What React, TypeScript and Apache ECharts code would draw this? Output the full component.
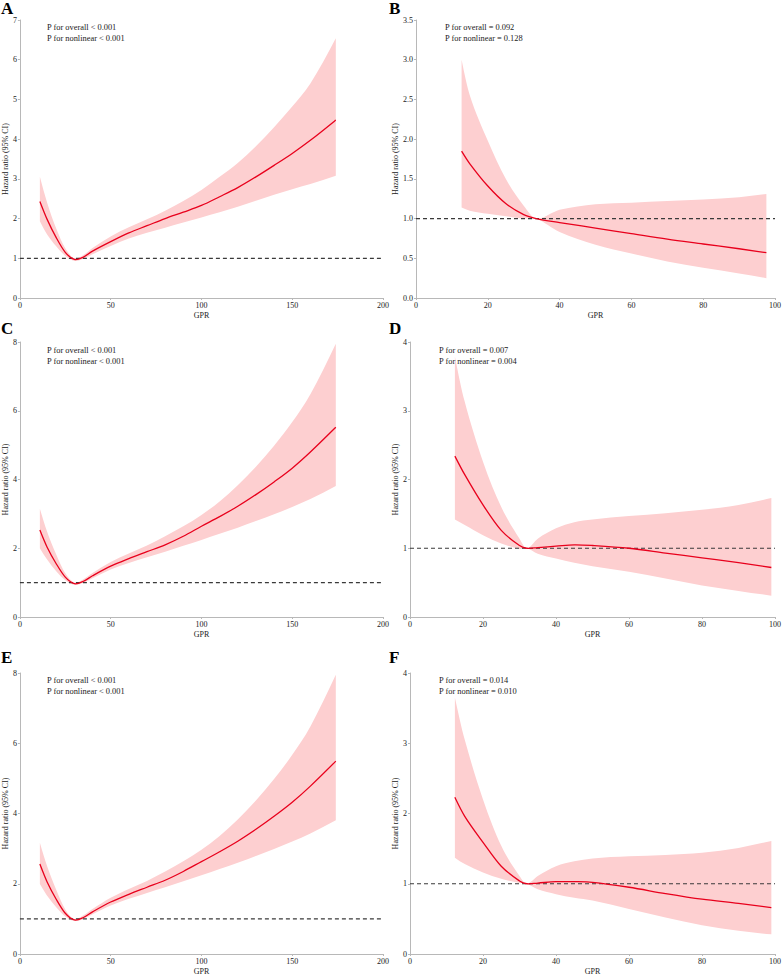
import React, { useEffect, useRef } from "react";
import * as echarts from "echarts";

// ---- Data ----
const gprLong = [11, 15, 20, 25, 30, 35, 40, 50, 60, 70, 80, 90, 100, 110, 120, 130, 140, 150, 160, 174];
const gprB = [12.7, 15, 20, 25, 30, 33.5, 40, 50, 60, 70, 80, 90, 97.6];
const gprShort = [12.3, 15, 20, 25, 30, 32, 35, 40, 45, 50, 60, 70, 80, 90, 99];

const hrA = [2.43, 1.98, 1.52, 1.15, 0.97, 1.03, 1.18, 1.42, 1.64, 1.82, 2.0, 2.16, 2.33, 2.55, 2.78, 3.05, 3.34, 3.64, 3.97, 4.48];
const upA = [3.05, 2.4, 1.75, 1.25, 1.0, 1.08, 1.26, 1.55, 1.78, 1.98, 2.2, 2.44, 2.72, 3.05, 3.4, 3.82, 4.3, 4.82, 5.4, 6.54];
const loA = [1.93, 1.6, 1.3, 1.06, 0.94, 0.99, 1.1, 1.31, 1.5, 1.64, 1.77, 1.9, 2.03, 2.16, 2.3, 2.45, 2.6, 2.74, 2.87, 3.08];

const hrB = [1.85, 1.69, 1.41, 1.19, 1.05, 1.0, 0.95, 0.88, 0.81, 0.74, 0.68, 0.62, 0.57];
const upB = [3.0, 2.55, 1.98, 1.5, 1.16, 1.0, 1.11, 1.18, 1.2, 1.22, 1.24, 1.27, 1.31];
const loB = [1.14, 1.1, 1.06, 1.03, 1.0, 1.0, 0.83, 0.67, 0.56, 0.46, 0.38, 0.31, 0.25];

const hrC = [2.53, 2.03, 1.55, 1.16, 0.97, 1.04, 1.2, 1.48, 1.7, 1.9, 2.1, 2.35, 2.64, 2.92, 3.22, 3.56, 3.93, 4.33, 4.8, 5.52];
const upC = [3.15, 2.48, 1.82, 1.27, 1.0, 1.1, 1.28, 1.6, 1.85, 2.08, 2.35, 2.64, 2.97, 3.36, 3.83, 4.37, 4.98, 5.67, 6.48, 7.95];
const loC = [2.0, 1.67, 1.33, 1.07, 0.94, 1.0, 1.13, 1.38, 1.57, 1.74, 1.9, 2.07, 2.24, 2.42, 2.6, 2.79, 2.99, 3.2, 3.43, 3.81];

const hrD = [2.34, 2.07, 1.63, 1.26, 1.04, 1.0, 1.01, 1.03, 1.05, 1.04, 1.0, 0.93, 0.86, 0.79, 0.72];
const upD = [3.79, 3.13, 2.26, 1.6, 1.14, 1.0, 1.14, 1.29, 1.38, 1.42, 1.47, 1.51, 1.56, 1.63, 1.73];
const loD = [1.42, 1.34, 1.19, 1.07, 0.99, 1.0, 0.92, 0.85, 0.79, 0.74, 0.66, 0.56, 0.46, 0.38, 0.31];

const hrE = [2.56, 2.05, 1.56, 1.16, 0.97, 1.04, 1.2, 1.48, 1.7, 1.9, 2.1, 2.35, 2.63, 2.91, 3.21, 3.55, 3.92, 4.32, 4.78, 5.49];
const upE = [3.17, 2.5, 1.83, 1.27, 1.0, 1.1, 1.28, 1.6, 1.85, 2.08, 2.35, 2.64, 2.97, 3.36, 3.83, 4.37, 4.98, 5.67, 6.48, 7.95];
const loE = [1.99, 1.66, 1.33, 1.07, 0.94, 1.0, 1.13, 1.38, 1.57, 1.74, 1.9, 2.07, 2.24, 2.42, 2.6, 2.79, 2.99, 3.2, 3.43, 3.81];

const hrF = [2.23, 1.96, 1.59, 1.25, 1.04, 1.0, 1.01, 1.03, 1.03, 1.02, 0.95, 0.86, 0.78, 0.72, 0.66];
const upF = [3.65, 3.05, 2.2, 1.54, 1.11, 1.0, 1.11, 1.25, 1.32, 1.36, 1.39, 1.41, 1.44, 1.51, 1.61];
const loF = [1.37, 1.28, 1.16, 1.07, 1.01, 1.0, 0.92, 0.85, 0.8, 0.76, 0.64, 0.52, 0.41, 0.33, 0.28];

const panelLetters = ["A", "B", "C", "D", "E", "F"];
const pOverall = ["P for overall < 0.001", "P for overall = 0.092", "P for overall < 0.001", "P for overall = 0.007", "P for overall < 0.001", "P for overall = 0.014"];
const pNonlinear = ["P for nonlinear < 0.001", "P for nonlinear = 0.128", "P for nonlinear < 0.001", "P for nonlinear = 0.004", "P for nonlinear < 0.001", "P for nonlinear = 0.010"];

const xMaxs = [200, 100, 200, 100, 200, 100];
const xSteps = [50, 20, 50, 20, 50, 20];
const yMaxs = [7, 3.5, 8, 4, 8, 4];
const ySteps = [1, 0.5, 2, 1, 2, 1];
const refHR = 1;

const xName = "GPR";
const yName = "Hazard ratio (95% CI)";

const FONT = "'Liberation Serif', 'Times New Roman', serif";
const BAND = "#fdcfd0";
const RED = "#e8001c";
const AXIS = "#b8b8b8";
const TXT = "#222";

const panels = [
  { x: gprLong, hr: hrA, up: upA, lo: loA },
  { x: gprB, hr: hrB, up: upB, lo: loB },
  { x: gprLong, hr: hrC, up: upC, lo: loC },
  { x: gprShort, hr: hrD, up: upD, lo: loD },
  { x: gprLong, hr: hrE, up: upE, lo: loE },
  { x: gprShort, hr: hrF, up: upF, lo: loF },
];

// layout (pixels)
const grids = [
  { left: 17, top: 20, width: 366, height: 278 },
  { left: 416, top: 20, width: 361, height: 278 },
  { left: 17, top: 342, width: 366, height: 275 },
  { left: 410, top: 342, width: 367, height: 275 },
  { left: 17, top: 673, width: 366, height: 281 },
  { left: 410, top: 673, width: 367, height: 281 },
];
const yNameGaps = [8, 15, 8, 9, 8, 9];
const letterPos = [
  { x: 1, y: 0 }, { x: 389, y: 0 }, { x: 1, y: 320 }, { x: 389, y: 320 }, { x: 1, y: 649 }, { x: 389, y: 649 },
];
const notePos = [
  { x: 47, y: 22 }, { x: 445, y: 22 }, { x: 47, y: 345 }, { x: 439, y: 345 }, { x: 47, y: 675 }, { x: 439, y: 675 },
];

// cubic Hermite segments through pixel points (x increasing or decreasing)
function hermiteSegments(pts: number[][]): string {
  const n = pts.length;
  const s: number[] = [];
  for (let i = 0; i < n - 1; i++) {
    s.push((pts[i + 1][1] - pts[i][1]) / (pts[i + 1][0] - pts[i][0]));
  }
  const m: number[] = new Array(n).fill(0);
  for (let i = 1; i < n - 1; i++) {
    m[i] = (pts[i + 1][1] - pts[i - 1][1]) / (pts[i + 1][0] - pts[i - 1][0]);
  }
  m[0] = 1.5 * s[0] - 0.5 * m[1];
  m[n - 1] = 1.5 * s[n - 2] - 0.5 * m[n - 2];
  let d = "";
  for (let i = 0; i < n - 1; i++) {
    const h = pts[i + 1][0] - pts[i][0];
    const c1x = pts[i][0] + h / 3;
    const c1y = pts[i][1] + (m[i] * h) / 3;
    const c2x = pts[i + 1][0] - h / 3;
    const c2y = pts[i + 1][1] - (m[i + 1] * h) / 3;
    d += ` C ${c1x.toFixed(2)} ${c1y.toFixed(2)} ${c2x.toFixed(2)} ${c2y.toFixed(2)} ${pts[i + 1][0].toFixed(2)} ${pts[i + 1][1].toFixed(2)}`;
  }
  return d;
}

export default function App() {
  const ref = useRef<HTMLDivElement>(null);
  useEffect(() => {
    document.body.style.margin = "0";
    if (!ref.current) return;
    const chart = echarts.init(ref.current, undefined, { renderer: "svg" });

    const xAxis: any[] = [];
    const yAxis: any[] = [];
    const series: any[] = [];
    const graphic: any[] = [];

    panels.forEach((p, i) => {
      xAxis.push({
        type: "value",
        gridIndex: i,
        min: 0,
        max: xMaxs[i],
        interval: xSteps[i],
        name: xName,
        nameLocation: "middle",
        nameGap: 13,
        nameTextStyle: { fontFamily: FONT, fontSize: 8, color: TXT },
        axisLine: { show: true, onZero: false, lineStyle: { color: AXIS, width: 1 } },
        axisTick: { show: true, length: 2, lineStyle: { color: AXIS } },
        axisLabel: { fontFamily: FONT, fontSize: 8, color: TXT, margin: 3 },
        splitLine: { show: false },
      });
      yAxis.push({
        type: "value",
        gridIndex: i,
        min: 0,
        max: yMaxs[i],
        interval: ySteps[i],
        name: yName,
        nameLocation: "middle",
        nameRotate: 90,
        nameGap: yNameGaps[i],
        nameTextStyle: { fontFamily: FONT, fontSize: 8, color: TXT },
        axisLine: { show: true, lineStyle: { color: AXIS, width: 1 } },
        axisTick: { show: true, length: 2, lineStyle: { color: AXIS } },
        axisLabel: {
          fontFamily: FONT,
          fontSize: 8,
          color: TXT,
          margin: 3,
          formatter: (v: number) => (ySteps[i] < 1 ? v.toFixed(1) : String(v)),
        },
        splitLine: { show: false },
      });

      // 95% CI band
      series.push({
        type: "custom",
        xAxisIndex: i,
        yAxisIndex: i,
        data: p.x.map((x, k) => [x, p.lo[k], p.up[k]]),
        encode: { x: 0, y: [1, 2] },
        silent: true,
        z: 1,
        renderItem: (params: any, api: any) => {
          if (params.dataIndex !== 0) return null;
          const upPts = p.x.map((x, k) => api.coord([x, p.up[k]]));
          const loPts = p.x.map((x, k) => api.coord([x, p.lo[k]])).reverse();
          const d =
            `M ${upPts[0][0].toFixed(2)} ${upPts[0][1].toFixed(2)}` +
            hermiteSegments(upPts) +
            ` L ${loPts[0][0].toFixed(2)} ${loPts[0][1].toFixed(2)}` +
            hermiteSegments(loPts) +
            " Z";
          return { type: "path", shape: { pathData: d }, style: { fill: BAND, stroke: "none" } };
        },
      });
      // reference line HR = 1
      series.push({
        type: "line",
        xAxisIndex: i,
        yAxisIndex: i,
        data: [[0, refHR], [xMaxs[i], refHR]],
        symbol: "none",
        silent: true,
        lineStyle: { type: [4, 3], color: "#3a3a3a", width: 1.2 },
        z: 2,
      });
      // hazard ratio curve
      series.push({
        type: "custom",
        xAxisIndex: i,
        yAxisIndex: i,
        data: p.x.map((x, k) => [x, p.hr[k]]),
        encode: { x: 0, y: 1 },
        silent: true,
        z: 3,
        renderItem: (params: any, api: any) => {
          if (params.dataIndex !== 0) return null;
          const pts = p.x.map((x, k) => api.coord([x, p.hr[k]]));
          const d = `M ${pts[0][0].toFixed(2)} ${pts[0][1].toFixed(2)}` + hermiteSegments(pts);
          return {
            type: "path",
            shape: { pathData: d },
            style: { fill: "none", stroke: RED, lineWidth: 1.3 },
          };
        },
      });

      graphic.push({
        type: "text",
        z: 100,
        left: letterPos[i].x,
        top: letterPos[i].y,
        style: { text: panelLetters[i], font: `bold 17px ${FONT}`, lineHeight: 14, fill: "#000" },
      });
      graphic.push({
        type: "text",
        z: 100,
        left: notePos[i].x,
        top: notePos[i].y,
        style: {
          text: pOverall[i] + "\n" + pNonlinear[i],
          font: `8.4px ${FONT}`,
          lineHeight: 11,
          fill: TXT,
        },
      });
    });

    chart.setOption({
      animation: false,
      backgroundColor: "#fff",
      grid: grids.map((g) => ({ ...g, containLabel: false })),
      xAxis,
      yAxis,
      series,
      graphic,
    });
    return () => chart.dispose();
  }, []);
  return <div ref={ref} style={{ width: 784, height: 976 }} />;
}
